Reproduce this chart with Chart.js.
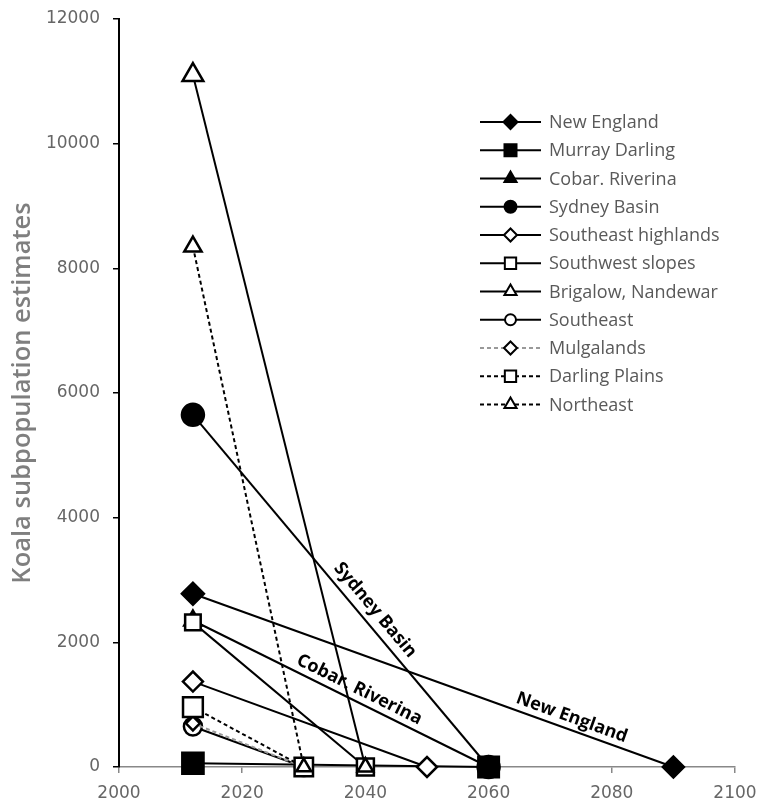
<!DOCTYPE html>
<html lang="en">
<head>
<meta charset="UTF-8">
<title>Koala subpopulation estimates</title>
<script src="https://cdn.jsdelivr.net/npm/chart.js"></script>
<style>
  html, body { margin: 0; padding: 0; background: #fff; }
  #wrap { width: 759px; height: 805px; position: relative; }
</style>
</head>
<body>
<div id="wrap"><canvas id="myChart"></canvas></div>

<script>
// data
const seriesNames = ['New England', 'Murray Darling', 'Cobar. Riverina', 'Sydney Basin',
  'Southeast highlands', 'Southwest slopes', 'Brigalow, Nandewar', 'Southeast',
  'Mulgalands', 'Darling Plains', 'Northeast'];
const startYears  = [2012, 2012, 2012, 2012, 2012, 2012, 2012, 2012, 2012, 2012, 2012];
const startValues = [2780, 60, 2350, 5650, 1370, 2320, 11100, 650, 700, 960, 8350];
const endYears    = [2090, 2060, 2060, 2060, 2050, 2040, 2040, 2030, 2030, 2030, 2030];
const endValues   = [0, 0, 0, 0, 0, 0, 0, 0, 0, 0, 0];
const xTicks = [2000, 2020, 2040, 2060, 2080, 2100];
const yTicks = [0, 2000, 4000, 6000, 8000, 10000, 12000];

// look of each series (marker, fill, dash, marker sizes at start/end, legend marker size)
const styles = [
  { point: 'rectRot',  filled: true,  dash: [],     color: '#000', r: [11, 10.5], lr: 7 },
  { point: 'rect',     filled: true,  dash: [],     color: '#000', r: [15, 14.5], lr: 8.5 },
  { point: 'triangle', filled: true,  dash: [],     color: '#000', r: [10, 10],   lr: 7 },
  { point: 'circle',   filled: true,  dash: [],     color: '#000', r: [11, 11],   lr: 6 },
  { point: 'rectRot',  filled: false, dash: [],     color: '#000', r: [10, 10],   lr: 6.5 },
  { point: 'rect',     filled: false, dash: [],     color: '#000', r: [11, 12],   lr: 8 },
  { point: 'triangle', filled: false, dash: [],     color: '#000', r: [12, 9],    lr: 7 },
  { point: 'circle',   filled: false, dash: [],     color: '#000', r: [9, 9],     lr: 5.5 },
  { point: 'rectRot',  filled: false, dash: [4, 3], color: '#999', r: [7, 7],     lr: 6.5 },
  { point: 'rect',     filled: false, dash: [4, 3], color: '#000', r: [14, 13],   lr: 8 },
  { point: 'triangle', filled: false, dash: [4, 3], color: '#000', r: [10, 8.5],  lr: 7 }
];

// labels written along some of the lines
const lineLabels = [
  { series: 3, text: 'Sydney Basin', t: 0.58, off: 5 },
  { series: 2, text: 'Cobar. Riverina', t: 0.545, off: 3 },
  { series: 0, text: 'New England', t: 0.78, off: 3 }
];

const datasets = seriesNames.map(function (name, i) {
  const s = styles[i];
  return {
    label: name,
    data: [{ x: startYears[i], y: startValues[i] }, { x: endYears[i], y: endValues[i] }],
    borderColor: s.color,
    borderWidth: 2,
    borderDash: s.dash,
    pointStyle: s.point,
    pointRadius: s.r,
    pointHoverRadius: s.r,
    pointBackgroundColor: s.filled ? '#000' : '#fff',
    pointBorderColor: '#000',
    pointBorderWidth: 2.5,
    order: -i,
    clip: false,
    fill: false,
    tension: 0
  };
});

const legendPlugin = {
  id: 'lineLegend',
  afterDraw(chart) {
    const ctx = chart.ctx;
    ctx.save();
    ctx.font = '18px "Open Sans"';
    ctx.textBaseline = 'middle';
    seriesNames.forEach(function (name, i) {
      const s = styles[i];
      const y = 122 + i * 28.25;
      ctx.strokeStyle = s.color;
      ctx.lineWidth = 2;
      ctx.setLineDash(s.dash);
      ctx.beginPath();
      ctx.moveTo(480, y);
      ctx.lineTo(541, y);
      ctx.stroke();
      ctx.setLineDash([]);
      ctx.fillStyle = s.filled ? '#000' : '#fff';
      ctx.strokeStyle = '#000';
      Chart.helpers.drawPoint(ctx, { pointStyle: s.point, rotation: 0, radius: s.lr, borderWidth: 2.5 }, 510.5, y);
      ctx.fillStyle = '#595959';
      ctx.fillText(name, 549, y + 1);
    });
    ctx.restore();
  }
};

const lineLabelPlugin = {
  id: 'lineLabels',
  afterDatasetsDraw(chart) {
    const ctx = chart.ctx;
    const xs = chart.scales.x, ys = chart.scales.y;
    ctx.save();
    ctx.font = 'bold 18px "Open Sans"';
    ctx.fillStyle = '#000';
    ctx.textAlign = 'center';
    ctx.textBaseline = 'bottom';
    lineLabels.forEach(function (l) {
      const i = l.series;
      const x0 = xs.getPixelForValue(startYears[i]), y0 = ys.getPixelForValue(startValues[i]);
      const x1 = xs.getPixelForValue(endYears[i]), y1 = ys.getPixelForValue(endValues[i]);
      const px = x0 + (x1 - x0) * l.t, py = y0 + (y1 - y0) * l.t;
      ctx.save();
      ctx.translate(px, py);
      ctx.rotate(Math.atan2(y1 - y0, x1 - x0));
      ctx.fillText(l.text, 0, -l.off);
      ctx.restore();
    });
    ctx.restore();
  }
};

const config = {
  type: 'line',
  data: { datasets: datasets },
  options: {
    responsive: true,
    maintainAspectRatio: false,
    animation: false,
    layout: { padding: { left: 0, top: 19, right: 24, bottom: 0 } },
    plugins: { legend: { display: false }, tooltip: { enabled: false } },
    scales: {
      x: {
        type: 'linear',
        min: 2000, max: 2100,
        afterBuildTicks(scale) { scale.ticks = xTicks.map(v => ({ value: v })); },
        afterFit(scale) {
          scale.height = 38;
          scale.paddingLeft = 0;
          scale.paddingRight = 0;
        },
        grid: { drawOnChartArea: false, color: '#888', tickLength: 6, lineWidth: 1.5 },
        border: { color: '#888', width: 1.5 },
        ticks: {
          color: '#666', padding: 10,
          font: { family: 'DejaVu Sans', size: 17 },
          callback: v => String(v), maxRotation: 0
        }
      },
      y: {
        min: 0, max: 12000,
        afterBuildTicks(scale) { scale.ticks = yTicks.map(v => ({ value: v })); },
        afterFit(scale) {
          scale.width = 119;
          scale.paddingTop = 0;
          scale.paddingBottom = 0;
        },
        grid: { drawOnChartArea: false, color: '#000', tickLength: 6, lineWidth: 1.5 },
        border: { color: '#000', width: 2 },
        title: {
          display: true,
          text: 'Koala subpopulation estimates',
          color: '#7f7f7f',
          font: { family: 'Open Sans', size: 25.5, weight: '600' },
          padding: { top: 7, bottom: 0 }
        },
        ticks: {
          color: '#666', padding: 13,
          font: { family: 'DejaVu Sans', size: 17 },
          callback: v => String(v)
        }
      }
    }
  },
  plugins: [lineLabelPlugin, legendPlugin]
};

const chart = new Chart(document.getElementById('myChart'), config);
</script>
</body>
</html>
